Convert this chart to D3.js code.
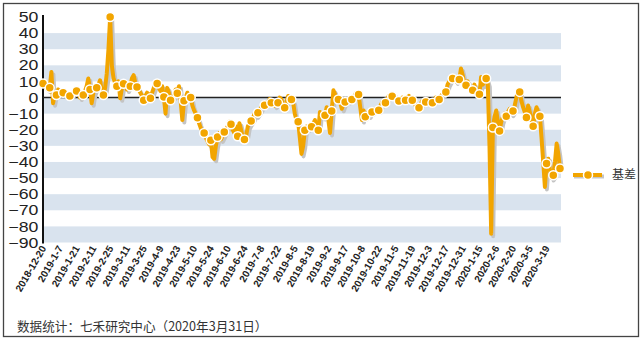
<!DOCTYPE html>
<html><head><meta charset="utf-8">
<script src="https://cdn.jsdelivr.net/npm/d3@7"></script>
<style>
html,body{margin:0;padding:0;background:#fff;}
svg{display:block;font-family:"Liberation Sans",Arial,sans-serif;}
</style></head>
<body><svg id="chart" width="644" height="341"></svg>
<script>
const seriesName = "基差";
const values = [
 8.7,7,6,5, 6,15.9,-3.5,2, 1.5,5,4,3, 3,4,2,1, 1,2,3,5, 4,3,0,2, 1.5,4,7,11.8, 5,-3.5,3,5,
 6,8,10.7,4, 1.5,6,15,30, 50,20,12,9, 7,10,-0.5,6, 8.5,9,5,7, 7,12,13.9,9, 6.5,5,3,1,
 -1.7,1,3,2, -0.5,3,6,9, 8.7,6,4,7, 0.3,-10,6,3, -1.7,0,1,5, 2.7,7,-2,-14, -2,0,3,1,
 0,-5,-8,-10, -12.5,-16,-19,-21, -22,-25,-27,-29, -26.5,-37,-38,-30, -24.5,-22,-26,-24,
 -21.4,-20,-18,-15, -16.6,-20,-22,-18, -24,-16,-20,-25, -26,-24,-18,-16, -14.5,-13,-10,-11,
 -9.5,-8,-6,-5, -4.8,-4,-3,-1, -3.3,-2,-5,-4, -3.3,0,-1,-5, -6.4,-3,1,0, -1.2,-3,-10,-14,
 -15,-25,-35,-30, -20.3,-18,-19,-17, -18.2,-16,-14,-19, -20.3,-9,-10,-12, -11,-6,-14,-22,
 -8.3,4.5,2,-2, -1.2,-3,-7,-4, -2.7,-1,-2,0, -1.2,0,2,3, 1.9,-6,-14,-8, -12,-10,-11,-9,
 -9,-8,-7,-8, -7.9,-5,-3,-2, -3.3,-1,1,2, 0.8,2,-1,-2, -2.1,-1,0,-2, -1.7,0,1,-1,
 -1.7,-3,-5,-6, -6.4,-4,-2,-3, -2.7,-1,-2,-3, -3.3,-2,0,-1, -1.2,1,2,3, 3.5,8,10,12,
 11.8,13,10,12, 11.2,18,14,9, 7.6,10,6,5, 4.5,8,3,2, 2,12.8,8,10, 11.8,8,-30,-84.5,
 -18.6,-12,-8,-15, -20.7,-15,-12,-10, -11.6,-9,-7,-10, -8.3,-5,0,4, 3.5,-2,-6,-9,
 -12.4,-5,-9,-14, -17.8,-10,-6,-9, -11.6,-25,-40,-55.5, -41,-38,-45,-50, -48.3,-40,-28.6,-35,
 -44
];
const tickLabels = ["2018-12-20","2019-1-7","2019-1-21","2019-2-11","2019-2-25","2019-3-11","2019-3-25",
 "2019-4-9","2019-4-23","2019-5-10","2019-5-24","2019-6-10","2019-6-24","2019-7-8","2019-7-22",
 "2019-8-5","2019-8-19","2019-9-2","2019-9-17","2019-10-8","2019-10-22","2019-11-5","2019-11-19",
 "2019-12-3","2019-12-17","2019-12-31","2020-1-15","2020-2-6","2020-2-20","2020-3-5","2020-3-19"];
const yTicks = [50,40,30,20,10,0,-10,-20,-30,-40,-50,-60,-70,-80,-90];
const footer = "数据统计：七禾研究中心（2020年3月31日）";

const orange = "#F2A500", band = "#D9E3EE";
const svg = d3.select("#chart");
const pLeft = 43, pRight = 561, pTop = 17, pBottom = 242.5;
const x = d3.scaleLinear().domain([0, values.length - 1]).range([pLeft, pRight - 1]);
const y = d3.scaleLinear().domain([-90, 50]).range([pBottom, pTop]);

// outer frame
svg.append("rect").attr("x",3.5).attr("y",3.5).attr("width",635).attr("height",333)
  .attr("fill","none").attr("stroke","#444").attr("stroke-width",1.3);

// bands
const bandStarts = yTicks.filter(v => v > -90 && ((v + 100) / 10) % 2 === 0);
svg.append("g").selectAll("rect").data(bandStarts).join("rect")
  .attr("x", pLeft).attr("width", pRight - pLeft)
  .attr("y", d => y(d)).attr("height", d => y(d - 10) - y(d))
  .attr("fill", band);

// y axis labels
const yAxis = d3.axisLeft(y).tickValues(yTicks).tickSize(0).tickPadding(3);
const gy = svg.append("g").attr("transform", `translate(${pLeft-1},0)`).call(yAxis);
gy.select(".domain").remove();
gy.selectAll("text").attr("font-size", 14.5).attr("fill", "#222")
  .attr("font-family", '"Liberation Sans",Arial,sans-serif')
  .attr("transform", "scale(1.22,1)");
svg.append("line").attr("x1", pLeft).attr("x2", pLeft).attr("y1", pTop - 2).attr("y2", pBottom + 1)
  .attr("stroke", "#111").attr("stroke-width", 2);

// zero line
svg.append("line").attr("x1", pLeft).attr("x2", pRight).attr("y1", y(0)).attr("y2", y(0))
  .attr("stroke", "#222").attr("stroke-width", 1.4);

// x axis labels
const tickIdx = tickLabels.map((d, i) => i * 10);
const xAxis = d3.axisBottom(x).tickValues(tickIdx).tickFormat((d, i) => tickLabels[i]).tickSize(0);
const gx = svg.append("g").attr("transform", `translate(0,${pBottom + 4})`).call(xAxis);
gx.select(".domain").remove();
gx.selectAll("text").attr("font-size", 10).attr("font-weight", "bold").attr("fill", "#222")
  .attr("font-family", '"Liberation Sans",Arial,sans-serif')
  .attr("text-anchor", "end").attr("dy", "0.35em").attr("y", 0).attr("x", 0)
  .attr("transform", "rotate(-60)");

// line with shadow
const line = d3.line().x((d, i) => x(i)).y(d => y(d));
svg.append("path").datum(values).attr("d", line).attr("fill", "none")
  .attr("stroke", "#c4c4c4").attr("stroke-width", 4).attr("stroke-linejoin", "round")
  .attr("transform", "translate(2,2.5)");
svg.append("path").datum(values).attr("d", line).attr("fill", "none")
  .attr("stroke", orange).attr("stroke-width", 4).attr("stroke-linejoin", "round");

// markers every fourth point
const markerPts = values.map((v, i) => ({i, v})).filter(d => d.i % 4 === 0);
svg.append("g").selectAll("circle").data(markerPts).join("circle")
  .attr("cx", d => x(d.i)).attr("cy", d => y(d.v)).attr("r", 4.5)
  .attr("fill", orange).attr("stroke", "#fff").attr("stroke-width", 1.5);

// legend
const lg = svg.append("g").attr("transform", "translate(573,175)");
lg.append("line").attr("x1", 1).attr("x2", 31).attr("y1", 1.5).attr("y2", 1.5)
  .attr("stroke", "#c4c4c4").attr("stroke-width", 4);
lg.append("line").attr("x1", 0).attr("x2", 29).attr("y1", 0).attr("y2", 0)
  .attr("stroke", orange).attr("stroke-width", 4);
lg.append("circle").attr("cx", 15).attr("cy", 0).attr("r", 4.5)
  .attr("fill", orange).attr("stroke", "#fff").attr("stroke-width", 1.5);
lg.append("text").attr("x", 39).attr("y", 0).attr("dy", "0.35em")
  .attr("font-size", 12).attr("fill", "#333")
  .attr("font-family", '"Noto Sans CJK SC",sans-serif').text(seriesName);

// footer
svg.append("text").attr("x", 17).attr("y", 331).attr("font-size", 12.6).attr("fill", "#333")
  .attr("font-family", '"Noto Sans CJK SC",sans-serif').text(footer);
</script></body></html>
